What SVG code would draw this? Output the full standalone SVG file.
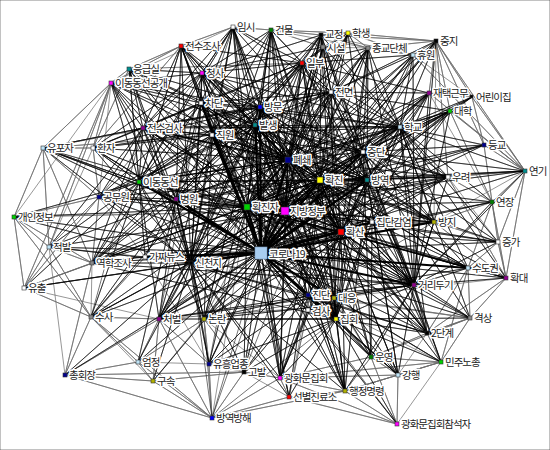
<svg xmlns="http://www.w3.org/2000/svg" width="550" height="450" viewBox="0 0 550 450">
<style>
.k{fill:none;stroke:#000;stroke-width:.55;stroke-linejoin:round}
.g{fill:none;stroke:#6a6a6a;stroke-width:.7;stroke-linejoin:round}
.m{fill:none;stroke:#000;stroke-width:1.3;stroke-linejoin:round}
.t{fill:none;stroke:#000;stroke-width:2.2;stroke-linejoin:round}
rect{stroke:#333;stroke-width:.6}
.w{fill:#fff}.dg{fill:#008000}.gr{fill:#00d000}.bk{fill:#000}.y{fill:#ff0}.gy{fill:#888}.lb{fill:#bfe4f7}.rd{fill:#f00}.pu{fill:#900090}.nv{fill:#000090}.tl{fill:#009090}.ol{fill:#b0b000}.mg{fill:#f0f}.bl{fill:#00f}.hub{fill:#a8cdf0;stroke:#7a9cc0}
text{font-family:"Noto Sans CJK KR","Noto Sans",sans-serif;font-size:10.5px;letter-spacing:-1px;fill:#222;stroke:#fff;stroke-width:3px;stroke-linejoin:round;paint-order:stroke}
</style>
<rect width="550" height="450" fill="#fff" stroke="none"/>
<g id="edges">
<path class="g" d="M43 148 93 148 43 148 14 217 43 148 49 247 43 148 111 83 43 148 139 182 43 148 99 197 43 148 92 263 43 148 176 199 43 148 143 128 43 148 212 135 43 148 260 107 43 148 247 207"/>
<path class="g" d="M14 217 24 288 14 217 49 247 14 217 99 197 14 217 92 263 14 217 285 211 14 217 91 317 14 217 111 83"/>
<path class="g" d="M24 288 49 247 24 288 92 263 24 288 91 317 24 288 111 83 24 288 99 197 24 288 247 207 24 288 159 319"/>
<path class="g" d="M65 375 91 317 65 375 153 381 65 375 244 372 65 375 212 418 65 375 92 263 65 375 159 319 65 375 138 362 65 375 49 247"/>
<path class="g" d="M212 418 153 381 212 418 138 362 212 418 159 319 212 418 204 319 212 418 209 364 212 418 244 372 212 418 280 378 212 418 345 391 212 418 289 397 212 418 91 317 212 418 247 207"/>
<path class="g" d="M397 424 289 397 397 424 345 391 397 424 280 378 397 424 371 357 397 424 398 375 397 424 308 308 397 424 441 362"/>
<path class="g" d="M441 362 398 375 441 362 427 333 441 362 470 318 441 362 280 378 441 362 371 357 441 362 345 391 441 362 468 268 441 362 334 298 441 362 308 296"/>
<path class="g" d="M525 171 484 145 525 171 450 111 525 171 429 93 525 171 472 97 525 171 448 177 525 171 492 202 525 171 436 41 525 171 413 55 525 171 498 242 525 171 506 278 525 171 434 222"/>
<path class="g" d="M436 41 413 55 436 41 429 93 436 41 450 111 436 41 484 145 436 41 368 48 436 41 472 97 436 41 448 177 436 41 348 33 436 41 321 35 436 41 434 222"/>
<path class="g" d="M506 278 468 268 506 278 498 242 506 278 470 318 506 278 427 333 506 278 492 202 506 278 434 222 506 278 448 177 506 278 334 298"/>
<path class="g" d="M470 318 427 333 470 318 468 268 470 318 371 357 470 318 334 298 470 318 308 296"/>
<path class="g" d="M472 97 429 93 472 97 450 111 472 97 484 145 472 97 413 55"/>
<path class="g" d="M233 27 271 30 233 27 181 46 233 27 202 73 233 27 111 83M181 46 129 69 181 46 111 83 181 46 93 148 181 46 139 182M129 69 111 83 129 69 93 148 129 69 139 182M111 83 93 148 111 83 99 197"/>
<path class="g" d="M271 30 321 35 271 30 348 33 271 30 323 47 271 30 368 48M321 35 348 33 321 35 323 47 321 35 368 48 321 35 413 55M348 33 368 48 348 33 413 55 348 33 323 47M368 48 413 55 368 48 323 47"/>
<path class="g" d="M93 148 99 197 93 148 139 182M99 197 92 263 99 197 49 247 99 197 145 257M49 247 92 263 49 247 91 317 49 247 145 257 49 247 111 83 49 247 93 148M92 263 145 257 92 263 91 317M91 317 145 257 91 317 159 319 91 317 138 362 91 317 153 381"/>
<path class="g" d="M138 362 159 319 138 362 153 381 138 362 204 319 138 362 209 364M153 381 159 319 153 381 244 372 153 381 204 319M209 364 159 319 209 364 204 319 209 364 244 372 209 364 145 257M244 372 204 319 244 372 280 378 244 372 289 397"/>
<path class="g" d="M280 378 289 397 280 378 345 391 280 378 398 375 280 378 371 357 280 378 308 308 280 378 204 319M289 397 345 391 289 397 308 308 289 397 308 296M345 391 398 375 345 391 371 357 345 391 334 298M398 375 371 357 398 375 427 333M371 357 427 333 371 357 308 296 371 357 334 298M427 333 468 268 427 333 470 318"/>
<path class="g" d="M492 202 484 145 492 202 448 177 492 202 434 222 492 202 498 242 492 202 468 268 492 202 450 111 492 202 429 93M498 242 468 268 498 242 434 222 498 242 448 177"/>
<path class="k" d="M308 308 308 296 308 308 334 298 308 308 261 253 308 308 336 319 308 308 204 319 308 308 159 319"/>
<path class="k" d="M308 296 204 319 308 296 159 319 308 296 209 364 308 296 244 372 308 296 280 378 308 296 345 391 308 296 398 375 308 296 427 333 308 296 468 268 308 296 434 222"/>
<path class="k" d="M372 222 429 93 372 222 450 111 372 222 448 177 372 222 434 222 372 222 468 268 372 222 498 242 372 222 427 333 372 222 371 357 372 222 204 319 372 222 159 319"/>
<path class="k" d="M261 253 233 27 261 253 271 30 261 253 321 35 261 253 348 33 261 253 323 47 261 253 368 48 261 253 436 41 261 253 413 55 261 253 302 63 261 253 331 92 261 253 429 93 261 253 472 97 261 253 450 111 261 253 400 127 261 253 484 145 261 253 525 171 261 253 448 177 261 253 492 202 261 253 498 242 261 253 506 278 261 253 470 318 261 253 427 333 261 253 441 362 261 253 398 375 261 253 397 424 261 253 345 391 261 253 289 397 261 253 280 378 261 253 371 357 261 253 308 308 261 253 202 73 261 253 181 46 261 253 129 69 261 253 111 83 261 253 143 128 261 253 93 148 261 253 43 148 261 253 99 197 261 253 14 217 261 253 49 247 261 253 92 263 261 253 24 288 261 253 91 317 261 253 65 375 261 253 159 319 261 253 204 319 261 253 138 362 261 253 153 381 261 253 209 364 261 253 244 372 261 253 212 418"/>
<path class="k" d="M247 207 233 27 247 207 271 30 247 207 321 35 247 207 348 33 247 207 368 48 247 207 436 41 247 207 413 55 247 207 302 63 247 207 331 92 247 207 429 93 247 207 450 111 247 207 400 127 247 207 484 145 247 207 525 171 247 207 448 177 247 207 492 202 247 207 434 222 247 207 498 242 247 207 468 268 247 207 506 278 247 207 414 285 247 207 470 318 247 207 427 333 247 207 398 375 247 207 345 391 247 207 289 397 247 207 280 378 247 207 371 357 247 207 336 319 247 207 308 296 247 207 334 298 247 207 341 232 247 207 372 222 247 207 367 180 247 207 320 180 247 207 363 152 247 207 255 125 247 207 260 107 247 207 212 135 247 207 201 103 247 207 202 73 247 207 181 46 247 207 129 69 247 207 111 83 247 207 143 128 247 207 93 148 247 207 139 182 247 207 176 199 247 207 99 197 247 207 92 263 247 207 191 263 247 207 91 317 247 207 159 319 247 207 204 319 247 207 209 364 247 207 244 372 247 207 14 217 247 207 43 148"/>
<path class="k" d="M285 211 233 27 285 211 271 30 285 211 321 35 285 211 323 47 285 211 368 48 285 211 436 41 285 211 413 55 285 211 302 63 285 211 331 92 285 211 429 93 285 211 472 97 285 211 450 111 285 211 400 127 285 211 484 145 285 211 448 177 285 211 434 222 285 211 468 268 285 211 506 278 285 211 414 285 285 211 427 333 285 211 398 375 285 211 345 391 285 211 280 378 285 211 371 357 285 211 336 319 285 211 334 298 285 211 372 222 285 211 367 180 285 211 320 180 285 211 363 152 285 211 255 125 285 211 260 107 285 211 212 135 285 211 201 103 285 211 202 73 285 211 181 46 285 211 143 128 285 211 139 182 285 211 176 199 285 211 99 197 285 211 49 247 285 211 191 263 285 211 91 317 285 211 204 319 285 211 209 364 285 211 244 372 285 211 212 418"/>
<path class="k" d="M288 160 233 27 288 160 271 30 288 160 321 35 288 160 348 33 288 160 323 47 288 160 368 48 288 160 413 55 288 160 302 63 288 160 331 92 288 160 429 93 288 160 450 111 288 160 400 127 288 160 448 177 288 160 434 222 288 160 468 268 288 160 414 285 288 160 427 333 288 160 345 391 288 160 280 378 288 160 336 319 288 160 372 222 288 160 367 180 288 160 363 152 288 160 202 73 288 160 181 46 288 160 129 69 288 160 111 83 288 160 93 148 288 160 99 197 288 160 92 263 288 160 191 263 288 160 159 319 288 160 204 319"/>
<path class="k" d="M320 180 271 30 320 180 321 35 320 180 348 33 320 180 368 48 320 180 436 41 320 180 302 63 320 180 331 92 320 180 429 93 320 180 450 111 320 180 400 127 320 180 484 145 320 180 525 171 320 180 448 177 320 180 492 202 320 180 434 222 320 180 498 242 320 180 468 268 320 180 506 278 320 180 414 285 320 180 427 333 320 180 398 375 320 180 345 391 320 180 289 397 320 180 280 378 320 180 371 357 320 180 336 319 320 180 308 296 320 180 372 222 320 180 363 152 320 180 255 125 320 180 260 107 320 180 212 135 320 180 201 103 320 180 202 73 320 180 181 46 320 180 143 128 320 180 139 182 320 180 176 199 320 180 99 197 320 180 92 263 320 180 191 263 320 180 159 319 320 180 244 372"/>
<path class="k" d="M341 232 271 30 341 232 321 35 341 232 368 48 341 232 302 63 341 232 331 92 341 232 429 93 341 232 450 111 341 232 400 127 341 232 448 177 341 232 492 202 341 232 434 222 341 232 498 242 341 232 468 268 341 232 506 278 341 232 414 285 341 232 470 318 341 232 427 333 341 232 441 362 341 232 398 375 341 232 345 391 341 232 280 378 341 232 371 357 341 232 336 319 341 232 308 296 341 232 334 298 341 232 372 222 341 232 367 180 341 232 363 152 341 232 255 125 341 232 260 107 341 232 212 135 341 232 201 103 341 232 202 73 341 232 143 128 341 232 139 182 341 232 176 199 341 232 99 197 341 232 92 263 341 232 191 263 341 232 159 319 341 232 204 319 341 232 209 364 341 232 244 372 341 232 285 211"/>
<path class="k" d="M367 180 233 27 367 180 321 35 367 180 368 48 367 180 302 63 367 180 331 92 367 180 429 93 367 180 400 127 367 180 448 177 367 180 434 222 367 180 414 285 367 180 427 333 367 180 398 375 367 180 345 391 367 180 280 378 367 180 336 319 367 180 308 296 367 180 255 125 367 180 260 107 367 180 212 135 367 180 201 103 367 180 202 73 367 180 143 128 367 180 139 182 367 180 176 199 367 180 92 263 367 180 191 263 367 180 159 319 367 180 204 319 367 180 525 171 367 180 450 111 367 180 413 55"/>
<path class="k" d="M255 125 233 27 255 125 271 30 255 125 321 35 255 125 368 48 255 125 302 63 255 125 331 92 255 125 400 127 255 125 448 177 255 125 434 222 255 125 414 285 255 125 427 333 255 125 345 391 255 125 280 378 255 125 336 319 255 125 308 296 255 125 372 222 255 125 363 152 255 125 212 135 255 125 201 103 255 125 202 73 255 125 181 46 255 125 129 69 255 125 111 83 255 125 143 128 255 125 93 148 255 125 139 182 255 125 176 199 255 125 99 197 255 125 92 263 255 125 191 263 255 125 91 317 255 125 159 319 255 125 204 319 255 125 209 364"/>
<path class="k" d="M260 107 233 27 260 107 271 30 260 107 321 35 260 107 323 47 260 107 302 63 260 107 331 92 260 107 400 127 260 107 448 177 260 107 434 222 260 107 414 285 260 107 336 319 260 107 308 296 260 107 372 222 260 107 363 152 260 107 212 135 260 107 201 103 260 107 202 73 260 107 181 46 260 107 129 69 260 107 111 83 260 107 143 128 260 107 93 148 260 107 139 182 260 107 176 199 260 107 92 263 260 107 191 263 260 107 159 319 260 107 204 319"/>
<path class="k" d="M191 263 233 27 191 263 271 30 191 263 302 63 191 263 331 92 191 263 400 127 191 263 448 177 191 263 434 222 191 263 414 285 191 263 427 333 191 263 345 391 191 263 289 397 191 263 280 378 191 263 336 319 191 263 308 296 191 263 372 222 191 263 363 152 191 263 212 135 191 263 201 103 191 263 202 73 191 263 181 46 191 263 129 69 191 263 111 83 191 263 143 128 191 263 93 148 191 263 43 148 191 263 139 182 191 263 176 199 191 263 99 197 191 263 14 217 191 263 49 247 191 263 92 263 191 263 145 257 191 263 24 288 191 263 91 317 191 263 65 375 191 263 159 319 191 263 204 319 191 263 138 362 191 263 153 381 191 263 209 364 191 263 244 372 191 263 212 418"/>
<path class="k" d="M336 319 233 27 336 319 271 30 336 319 321 35 336 319 368 48 336 319 302 63 336 319 331 92 336 319 400 127 336 319 414 285 336 319 470 318 336 319 427 333 336 319 441 362 336 319 398 375 336 319 397 424 336 319 345 391 336 319 289 397 336 319 280 378 336 319 371 357 336 319 308 296 336 319 334 298 336 319 372 222 336 319 363 152 336 319 212 135 336 319 201 103 336 319 202 73 336 319 176 199 336 319 92 263 336 319 159 319 336 319 204 319 336 319 209 364 336 319 244 372 336 319 212 418"/>
<path class="k" d="M414 285 368 48 414 285 436 41 414 285 413 55 414 285 302 63 414 285 331 92 414 285 429 93 414 285 450 111 414 285 400 127 414 285 525 171 414 285 448 177 414 285 492 202 414 285 434 222 414 285 498 242 414 285 468 268 414 285 506 278 414 285 470 318 414 285 427 333 414 285 441 362 414 285 398 375 414 285 345 391 414 285 371 357 414 285 308 296 414 285 334 298 414 285 372 222 414 285 363 152 414 285 212 135 414 285 201 103 414 285 202 73 414 285 143 128 414 285 176 199 414 285 92 263 414 285 159 319 414 285 204 319"/>
<path class="k" d="M400 127 321 35 400 127 348 33 400 127 323 47 400 127 368 48 400 127 436 41 400 127 413 55 400 127 302 63 400 127 331 92 400 127 429 93 400 127 472 97 400 127 450 111 400 127 484 145 400 127 525 171 400 127 448 177 400 127 492 202 400 127 434 222 400 127 498 242 400 127 468 268 400 127 506 278 400 127 470 318 400 127 427 333 400 127 363 152 400 127 212 135 400 127 201 103 400 127 202 73 400 127 143 128 400 127 139 182 400 127 176 199 400 127 92 263 400 127 159 319"/>
<path class="k" d="M363 152 321 35 363 152 348 33 363 152 323 47 363 152 368 48 363 152 436 41 363 152 413 55 363 152 302 63 363 152 331 92 363 152 429 93 363 152 472 97 363 152 450 111 363 152 484 145 363 152 525 171 363 152 448 177 363 152 434 222 363 152 498 242 363 152 468 268 363 152 470 318 363 152 427 333 363 152 441 362 363 152 398 375 363 152 371 357 363 152 201 103 363 152 202 73 363 152 143 128 363 152 176 199"/>
<path class="k" d="M176 199 181 46 176 199 129 69 176 199 111 83 176 199 143 128 176 199 93 148 176 199 43 148 176 199 139 182 176 199 99 197 176 199 49 247 176 199 92 263 176 199 145 257 176 199 91 317 176 199 159 319 176 199 204 319 176 199 138 362 176 199 209 364 176 199 201 103 176 199 202 73 176 199 212 135 176 199 331 92 176 199 302 63 176 199 233 27"/>
<path class="k" d="M139 182 181 46 139 182 129 69 139 182 111 83 139 182 143 128 139 182 93 148 139 182 43 148 139 182 99 197 139 182 14 217 139 182 49 247 139 182 92 263 139 182 145 257 139 182 24 288 139 182 91 317 139 182 159 319 139 182 204 319 139 182 201 103 139 182 202 73 139 182 212 135 139 182 233 27 139 182 302 63 139 182 331 92"/>
<path class="k" d="M331 92 321 35 331 92 348 33 331 92 323 47 331 92 368 48 331 92 436 41 331 92 413 55 331 92 302 63 331 92 429 93 331 92 450 111 331 92 448 177 331 92 434 222 331 92 212 135 331 92 201 103 331 92 202 73 331 92 143 128 331 92 233 27 331 92 271 30"/>
<path class="k" d="M302 63 233 27 302 63 271 30 302 63 321 35 302 63 348 33 302 63 323 47 302 63 368 48 302 63 413 55 302 63 429 93 302 63 212 135 302 63 201 103 302 63 202 73 302 63 181 46 302 63 143 128 302 63 129 69"/>
<path class="k" d="M202 73 233 27 202 73 271 30 202 73 321 35 202 73 323 47 202 73 212 135 202 73 201 103 202 73 181 46 202 73 129 69 202 73 111 83 202 73 143 128 202 73 93 148 202 73 99 197"/>
<path class="k" d="M212 135 233 27 212 135 271 30 212 135 321 35 212 135 181 46 212 135 129 69 212 135 111 83 212 135 143 128 212 135 93 148 212 135 99 197 212 135 92 263 212 135 159 319 212 135 204 319 212 135 201 103"/>
<path class="k" d="M201 103 233 27 201 103 271 30 201 103 181 46 201 103 129 69 201 103 111 83 201 103 143 128 201 103 93 148 201 103 99 197 201 103 92 263 201 103 159 319"/>
<path class="k" d="M143 128 233 27 143 128 181 46 143 128 129 69 143 128 111 83 143 128 93 148 143 128 43 148 143 128 99 197 143 128 49 247 143 128 92 263 143 128 91 317"/>
<path class="m" d="M288 160 247 207 288 160 285 211 288 160 320 180 288 160 255 125 288 160 260 107 288 160 212 135 288 160 201 103 288 160 143 128 288 160 139 182 288 160 176 199 288 160 341 232M320 180 285 211 320 180 341 232 320 180 367 180 320 180 247 207"/>
<path class="t" d="M261 253 247 207 261 253 285 211 261 253 288 160 261 253 320 180 261 253 341 232 261 253 367 180 261 253 255 125 261 253 260 107 261 253 191 263 261 253 308 296 261 253 336 319 261 253 414 285 261 253 372 222 261 253 176 199 261 253 139 182 261 253 363 152 261 253 334 298 261 253 212 135 261 253 201 103 261 253 434 222 261 253 468 268 261 253 145 257"/>
</g>
<g id="nodes">
<g id="n1"><rect class="w" x="231" y="25" width="4" height="4"/><text x="237" y="31">임시</text></g>
<g id="n2"><rect class="dg" x="269" y="28" width="4" height="4"/><text x="275" y="34">건물</text></g>
<g id="n3"><rect class="bk" x="319" y="33" width="4" height="4"/><text x="325" y="38">교정</text></g>
<g id="n4"><rect class="y" x="346" y="31" width="4" height="4"/><text x="352" y="37">학생</text></g>
<g id="n5"><rect class="gy" x="321" y="45" width="4" height="4"/><text x="327" y="52">시설</text></g>
<g id="n6"><rect class="gy" x="366" y="46" width="4" height="4"/><text x="372" y="52">종교단체</text></g>
<g id="n7"><rect class="bk" x="434" y="39" width="4" height="4"/><text x="440" y="45">중지</text></g>
<g id="n8"><rect class="lb" x="411" y="53" width="4" height="4"/><text x="417" y="59">휴원</text></g>
<g id="n9"><rect class="rd" x="300" y="61" width="4" height="4"/><text x="306" y="67">일부</text></g>
<g id="n10"><rect class="w" x="329" y="90" width="4" height="4"/><text x="335" y="96">전면</text></g>
<g id="n11"><rect class="pu" x="427" y="91" width="4" height="4"/><text x="433" y="97">재택근무</text></g>
<g id="n12"><rect class="bk" x="470" y="95" width="3" height="3"/><text x="476" y="101">어린이집</text></g>
<g id="n13"><rect class="gr" x="448" y="109" width="4" height="4"/><text x="454" y="115">대학</text></g>
<g id="n14"><rect class="lb" x="398" y="125" width="4" height="4"/><text x="404" y="131">학교</text></g>
<g id="n15"><rect class="nv" x="482" y="143" width="4" height="4"/><text x="488" y="149">등교</text></g>
<g id="n16"><rect class="tl" x="523" y="169" width="4" height="4"/><text x="529" y="175">연기</text></g>
<g id="n17"><rect class="w" x="446" y="175" width="4" height="4"/><text x="452" y="181">우려</text></g>
<g id="n18"><rect class="dg" x="490" y="200" width="4" height="4"/><text x="496" y="206">연장</text></g>
<g id="n19"><rect class="ol" x="432" y="220" width="4" height="4"/><text x="438" y="226">방지</text></g>
<g id="n20"><rect class="w" x="496" y="240" width="4" height="4"/><text x="502" y="246">증가</text></g>
<g id="n21"><rect class="lb" x="466" y="266" width="4" height="4"/><text x="472" y="272">수도권</text></g>
<g id="n22"><rect class="pu" x="504" y="276" width="4" height="4"/><text x="510" y="282">확대</text></g>
<g id="n23"><rect class="pu" x="412" y="283" width="4" height="4"/><text x="418" y="289">거리두기</text></g>
<g id="n24"><rect class="gy" x="468" y="316" width="4" height="4"/><text x="474" y="322">격상</text></g>
<g id="n25"><rect class="bk" x="425" y="331" width="4" height="4"/><text x="431" y="337">2단계</text></g>
<g id="n26"><rect class="gr" x="439" y="360" width="4" height="4"/><text x="445" y="366">민주노총</text></g>
<g id="n27"><rect class="lb" x="396" y="373" width="4" height="4"/><text x="402" y="379">강행</text></g>
<g id="n28"><rect class="mg" x="395" y="422" width="4" height="4"/><text x="401" y="428">광화문집회참석자</text></g>
<g id="n29"><rect class="ol" x="343" y="389" width="4" height="4"/><text x="349" y="395">행정명령</text></g>
<g id="n30"><rect class="rd" x="287" y="395" width="4" height="4"/><text x="293" y="401">선별진료소</text></g>
<g id="n31"><rect class="mg" x="278" y="376" width="4" height="4"/><text x="284" y="382">광화문집회</text></g>
<g id="n32"><rect class="dg" x="369" y="355" width="4" height="4"/><text x="375" y="361">운영</text></g>
<g id="n33"><rect class="y" x="334" y="317" width="4" height="4"/><text x="340" y="323">집회</text></g>
<g id="n34"><rect class="w" x="306" y="308" width="4" height="4"/><text x="312" y="315">검사</text></g>
<g id="n35"><rect class="nv" x="306" y="293" width="4" height="4"/><text x="312" y="299">진단</text></g>
<g id="n36"><rect class="ol" x="332" y="296" width="4" height="4"/><text x="338" y="302">대응</text></g>
<g id="n37"><rect class="rd" x="338" y="229" width="6" height="6"/><text x="346" y="236">확산</text></g>
<g id="n38"><rect class="w" x="370" y="220" width="4" height="4"/><text x="376" y="226">집단감염</text></g>
<g id="n39"><rect class="tl" x="365" y="178" width="4" height="4"/><text x="371" y="184">방역</text></g>
<g id="n40"><rect class="y" x="317" y="177" width="6" height="6"/><text x="325" y="184">확진</text></g>
<g id="n41"><rect class="nv" x="285" y="157" width="6" height="6"/><text x="293" y="164">폐쇄</text></g>
<g id="n42"><rect class="mg" x="281" y="207" width="8" height="8"/><text x="290" y="215">지방정부</text></g>
<g id="n43"><rect class="gr" x="244" y="204" width="6" height="6"/><text x="252" y="211">확진자</text></g>
<g id="n44"><rect class="hub" x="255" y="247" width="12" height="12"/><text x="269" y="258">코로나19</text></g>
<g id="n45"><rect class="w" x="361" y="150" width="4" height="4"/><text x="367" y="156">중단</text></g>
<g id="n46"><rect class="tl" x="253" y="123" width="4" height="4"/><text x="259" y="129">발생</text></g>
<g id="n47"><rect class="bl" x="258" y="105" width="4" height="4"/><text x="264" y="111">방문</text></g>
<g id="n48"><rect class="w" x="210" y="133" width="4" height="4"/><text x="216" y="139">직원</text></g>
<g id="n49"><rect class="w" x="199" y="101" width="4" height="4"/><text x="205" y="107">차단</text></g>
<g id="n50"><rect class="mg" x="200" y="71" width="4" height="4"/><text x="206" y="77">청사</text></g>
<g id="n51"><rect class="rd" x="179" y="44" width="4" height="4"/><text x="185" y="50">전수조사</text></g>
<g id="n52"><rect class="tl" x="127" y="67" width="4" height="4"/><text x="133" y="73">응급실</text></g>
<g id="n53"><rect class="mg" x="109" y="81" width="4" height="4"/><text x="115" y="87">이동동선공개</text></g>
<g id="n54"><rect class="pu" x="141" y="126" width="4" height="4"/><text x="147" y="132">전수검사</text></g>
<g id="n55"><rect class="w" x="91" y="146" width="4" height="4"/><text x="97" y="152">환자</text></g>
<g id="n56"><rect class="lb" x="41" y="146" width="4" height="4"/><text x="47" y="152">유포자</text></g>
<g id="n57"><rect class="gr" x="137" y="180" width="4" height="4"/><text x="143" y="186">이동동선</text></g>
<g id="n58"><rect class="pu" x="174" y="197" width="4" height="4"/><text x="180" y="203">병원</text></g>
<g id="n59"><rect class="nv" x="97" y="195" width="4" height="4"/><text x="103" y="201">공무원</text></g>
<g id="n60"><rect class="gr" x="12" y="215" width="4" height="4"/><text x="18" y="221">개인정보</text></g>
<g id="n61"><rect class="lb" x="47" y="245" width="4" height="4"/><text x="53" y="251">적발</text></g>
<g id="n62"><rect class="gy" x="90" y="261" width="4" height="4"/><text x="96" y="267">역학조사</text></g>
<g id="n63"><rect class="w" x="143" y="255" width="4" height="4"/><text x="149" y="261">가짜뉴스</text></g>
<g id="n64"><rect class="bk" x="189" y="261" width="4" height="4"/><text x="195" y="267">신천지</text></g>
<g id="n65"><rect class="w" x="22" y="286" width="4" height="4"/><text x="28" y="292">유출</text></g>
<g id="n66"><rect class="gy" x="89" y="315" width="4" height="4"/><text x="95" y="321">수사</text></g>
<g id="n67"><rect class="nv" x="63" y="373" width="4" height="4"/><text x="69" y="379">총회장</text></g>
<g id="n68"><rect class="pu" x="157" y="317" width="4" height="4"/><text x="163" y="323">처벌</text></g>
<g id="n69"><rect class="ol" x="202" y="317" width="4" height="4"/><text x="208" y="323">논란</text></g>
<g id="n70"><rect class="lb" x="136" y="360" width="4" height="4"/><text x="142" y="366">엄정</text></g>
<g id="n71"><rect class="ol" x="151" y="379" width="4" height="4"/><text x="157" y="385">구속</text></g>
<g id="n72"><rect class="nv" x="207" y="362" width="4" height="4"/><text x="213" y="368">유흥업종</text></g>
<g id="n73"><rect class="bk" x="242" y="370" width="4" height="4"/><text x="248" y="376">고발</text></g>
<g id="n74"><rect class="bl" x="210" y="416" width="4" height="4"/><text x="216" y="422">방역방해</text></g>
</g>
</svg>
